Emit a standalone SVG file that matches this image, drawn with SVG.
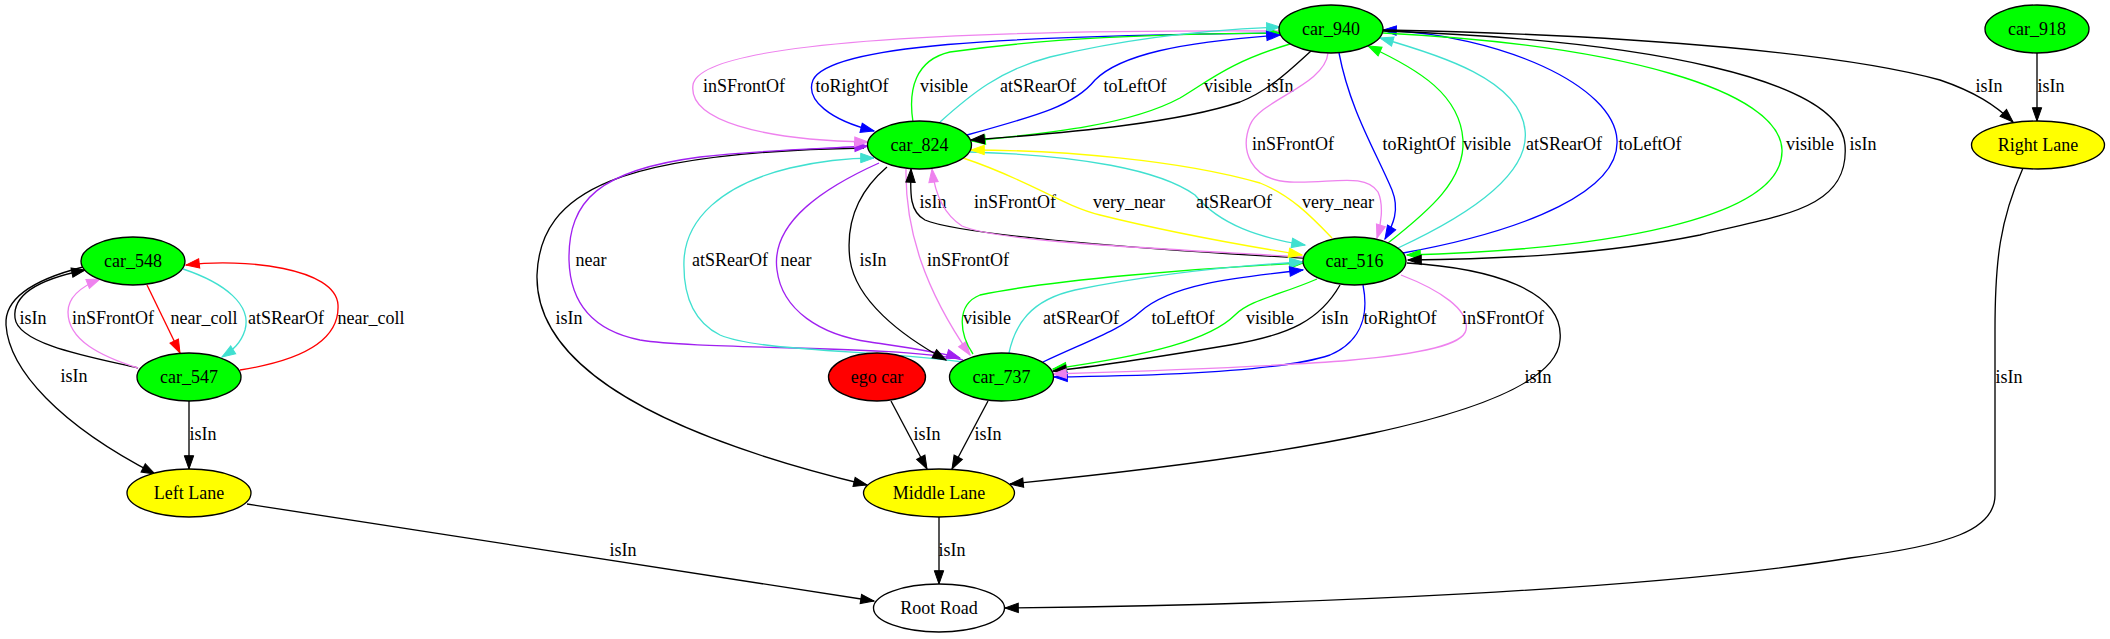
<svg xmlns="http://www.w3.org/2000/svg" width="2110" height="639" viewBox="0 0 2110 639">
<style>
.n ellipse{stroke:#000;stroke-width:1.33}
.t{font-family:"Liberation Serif","Times New Roman",serif;font-size:18px;text-anchor:middle;fill:#000}
.e path{fill:none;stroke-width:1.33}
.k{stroke:#000}.bl{stroke:#0000ff}.gr{stroke:#00ff00}.vi{stroke:#ee82ee}.tq{stroke:#40e0d0}.rd{stroke:#ff0000}.ye{stroke:#ffff00}.pu{stroke:#a020f0}
.k{marker-end:url(#mk)}.bl{marker-end:url(#mbl)}.gr{marker-end:url(#mgr)}.vi{marker-end:url(#mvi)}.tq{marker-end:url(#mtq)}.rd{marker-end:url(#mrd)}.ye{marker-end:url(#mye)}.pu{marker-end:url(#mpu)}
</style>
<defs>
<marker id="mk" markerUnits="userSpaceOnUse" markerWidth="16" markerHeight="12" refX="13.3" refY="4.7" orient="auto" overflow="visible"><path d="M0,0 L13.3,4.7 L0,9.4 Z" fill="#000" stroke="#000" stroke-width="1"/></marker>
<marker id="mbl" markerUnits="userSpaceOnUse" markerWidth="16" markerHeight="12" refX="13.3" refY="4.7" orient="auto" overflow="visible"><path d="M0,0 L13.3,4.7 L0,9.4 Z" fill="#0000ff" stroke="#0000ff" stroke-width="1"/></marker>
<marker id="mgr" markerUnits="userSpaceOnUse" markerWidth="16" markerHeight="12" refX="13.3" refY="4.7" orient="auto" overflow="visible"><path d="M0,0 L13.3,4.7 L0,9.4 Z" fill="#00ff00" stroke="#00ff00" stroke-width="1"/></marker>
<marker id="mvi" markerUnits="userSpaceOnUse" markerWidth="16" markerHeight="12" refX="13.3" refY="4.7" orient="auto" overflow="visible"><path d="M0,0 L13.3,4.7 L0,9.4 Z" fill="#ee82ee" stroke="#ee82ee" stroke-width="1"/></marker>
<marker id="mtq" markerUnits="userSpaceOnUse" markerWidth="16" markerHeight="12" refX="13.3" refY="4.7" orient="auto" overflow="visible"><path d="M0,0 L13.3,4.7 L0,9.4 Z" fill="#40e0d0" stroke="#40e0d0" stroke-width="1"/></marker>
<marker id="mrd" markerUnits="userSpaceOnUse" markerWidth="16" markerHeight="12" refX="13.3" refY="4.7" orient="auto" overflow="visible"><path d="M0,0 L13.3,4.7 L0,9.4 Z" fill="#ff0000" stroke="#ff0000" stroke-width="1"/></marker>
<marker id="mye" markerUnits="userSpaceOnUse" markerWidth="16" markerHeight="12" refX="13.3" refY="4.7" orient="auto" overflow="visible"><path d="M0,0 L13.3,4.7 L0,9.4 Z" fill="#ffff00" stroke="#ffff00" stroke-width="1"/></marker>
<marker id="mpu" markerUnits="userSpaceOnUse" markerWidth="16" markerHeight="12" refX="13.3" refY="4.7" orient="auto" overflow="visible"><path d="M0,0 L13.3,4.7 L0,9.4 Z" fill="#a020f0" stroke="#a020f0" stroke-width="1"/></marker>
</defs>
<rect x="0" y="0" width="2110" height="639" fill="#fff"/>
<g id="connectors" class="e">
<!-- left cluster -->
<path class="k" d="M138,368 C95,358 18,345 15,318 C12,292 45,278 85,270"/>
<text class="t" x="33" y="324">isIn</text>
<path class="k" d="M83,267 C40,278 4,295 6,325 C9,370 60,425 155,474"/>
<text class="t" x="74" y="382">isIn</text>
<path class="vi" d="M138,368 C100,356 68,340 68,312 C68,298 80,287 100,279"/>
<text class="t" x="113" y="324">inSFrontOf</text>
<path class="rd" d="M147,285 L180,353"/>
<text class="t" x="204" y="324">near_coll</text>
<path class="tq" d="M183,269 C225,283 252,305 245,330 C241,343 233,350 222,357"/>
<text class="t" x="286" y="324">atSRearOf</text>
<path class="rd" d="M240,370 C292,362 340,345 338,305 C336,268 245,258 186,265"/>
<text class="t" x="371" y="324">near_coll</text>
<path class="k" d="M189,401 L189,469"/>
<text class="t" x="203" y="440">isIn</text>
<path class="k" d="M247,504 L874,601"/>
<text class="t" x="623" y="556">isIn</text>
<!-- lanes -->
<path class="k" d="M891,401 L927,469"/>
<text class="t" x="927" y="440">isIn</text>
<path class="k" d="M988,401 L952,469"/>
<text class="t" x="988" y="440">isIn</text>
<path class="k" d="M939,517 L939,584"/>
<text class="t" x="952" y="556">isIn</text>
<path class="k" d="M1407,263 C1490,268 1565,290 1560,340 C1555,420 1250,460 1010,484"/>
<text class="t" x="1538" y="383">isIn</text>
<path class="k" d="M864,148 C620,152 540,190 537,275 C535,360 640,430 867,485"/>
<text class="t" x="569" y="324">isIn</text>
<!-- car_824 / car_737 -->
<path class="pu" d="M963,360 C900,345 700,350 640,340 C590,330 570,300 569,260 C568,200 600,170 700,157 C760,150 820,149 868,146"/>
<text class="t" x="591" y="266">near</text>
<path class="pu" d="M879,163 C830,185 770,220 777,270 C782,310 820,335 870,342 C910,348 940,352 960,358"/>
<text class="t" x="796" y="266">near</text>
<path class="tq" d="M963,362 C880,350 760,352 720,335 C690,320 683,290 684,260 C686,220 720,185 790,168 C820,161 845,158 874,158"/>
<text class="t" x="730" y="266">atSRearOf</text>
<path class="k" d="M887,167 C860,190 845,220 850,260 C856,300 900,335 946,360"/>
<text class="t" x="873" y="266">isIn</text>
<path class="vi" d="M906,169 C905,230 925,290 970,355"/>
<text class="t" x="968" y="266">inSFrontOf</text>
<!-- car_824 / car_516 -->
<path class="k" d="M1303,258 C1150,250 960,235 925,220 C910,212 910,195 911,169"/>
<text class="t" x="933" y="208">isIn</text>
<path class="vi" d="M1303,257 C1150,248 1000,242 962,226 C945,215 935,195 932,169"/>
<text class="t" x="1015" y="208">inSFrontOf</text>
<path class="ye" d="M963,158 C1030,180 1060,205 1100,215 C1160,230 1240,245 1302,255"/>
<text class="t" x="1129" y="208">very_near</text>
<path class="tq" d="M970,152 C1080,155 1160,170 1195,195 C1220,225 1260,238 1305,245"/>
<text class="t" x="1234" y="208">atSRearOf</text>
<path class="ye" d="M1332,238 C1310,215 1290,195 1260,183 C1180,160 1060,150 971,150"/>
<text class="t" x="1338" y="208">very_near</text>
<!-- car_940 / car_824 -->
<path class="vi" d="M1280,31 C1050,30 700,35 693,85 C688,120 760,140 868,142"/>
<text class="t" x="744" y="92">inSFrontOf</text>
<path class="bl" d="M1279,33 C1000,36 830,45 813,80 C805,100 830,120 874,131"/>
<text class="t" x="852" y="92">toRightOf</text>
<path class="gr" d="M913,122 C908,90 915,60 950,52 C1050,38 1150,34 1280,33"/>
<text class="t" x="944" y="92">visible</text>
<path class="tq" d="M940,122 C970,95 1000,70 1050,57 C1120,40 1200,30 1280,27"/>
<text class="t" x="1038" y="92">atSRearOf</text>
<path class="bl" d="M967,135 C1040,115 1075,105 1095,80 C1120,55 1180,42 1280,35"/>
<text class="t" x="1135" y="92">toLeftOf</text>
<path class="gr" d="M1290,44 C1230,62 1210,80 1180,98 C1130,125 1050,133 972,141"/>
<text class="t" x="1228" y="92">visible</text>
<path class="k" d="M1311,51 C1290,70 1270,90 1240,102 C1180,122 1080,132 971,140"/>
<text class="t" x="1280" y="92">isIn</text>
<!-- car_940 / car_516 -->
<path class="vi" d="M1328,53 C1325,85 1260,100 1250,125 C1240,150 1250,180 1290,182 C1330,184 1365,172 1378,192 C1384,205 1381,225 1377,238"/>
<text class="t" x="1293" y="150">inSFrontOf</text>
<path class="bl" d="M1339,53 C1350,110 1375,150 1392,190 C1400,210 1393,225 1385,239"/>
<text class="t" x="1419" y="150">toRightOf</text>
<path class="gr" d="M1388,243 C1430,210 1465,180 1463,140 C1460,95 1420,70 1368,46"/>
<text class="t" x="1487" y="150">visible</text>
<path class="tq" d="M1398,248 C1480,210 1530,170 1525,130 C1520,80 1440,55 1380,38"/>
<text class="t" x="1564" y="150">atSRearOf</text>
<path class="bl" d="M1403,253 C1530,230 1620,190 1617,140 C1614,85 1500,35 1383,30"/>
<text class="t" x="1650" y="150">toLeftOf</text>
<path class="gr" d="M1383,33 C1620,45 1780,90 1782,150 C1784,220 1600,250 1407,255"/>
<text class="t" x="1810" y="150">visible</text>
<path class="k" d="M1383,31 C1650,40 1840,80 1845,145 C1850,210 1780,215 1700,235 C1600,255 1500,259 1408,260"/>
<text class="t" x="1863" y="150">isIn</text>
<!-- right lane -->
<path class="k" d="M1383,30 C1650,35 1850,55 1940,80 C1975,92 1995,105 2013,122"/>
<text class="t" x="1989" y="92">isIn</text>
<path class="k" d="M2037,53 L2037,121"/>
<text class="t" x="2051" y="92">isIn</text>
<path class="k" d="M2023,168 C2000,220 1995,260 1995,330 L1995,495 C1995,530 1950,545 1850,558 C1650,590 1300,605 1005,608"/>
<text class="t" x="2009" y="383">isIn</text>
<!-- car_737 / car_516 -->
<path class="gr" d="M973,354 C960,335 955,305 980,295 C1050,280 1200,268 1303,263"/>
<text class="t" x="987" y="324">visible</text>
<path class="tq" d="M1009,353 C1015,325 1030,300 1075,290 C1150,275 1230,266 1303,262"/>
<text class="t" x="1081" y="324">atSRearOf</text>
<path class="bl" d="M1043,362 C1090,340 1120,330 1140,312 C1170,285 1230,278 1303,270"/>
<text class="t" x="1183" y="324">toLeftOf</text>
<path class="gr" d="M1317,279 C1280,295 1250,300 1235,315 C1210,340 1150,355 1053,369"/>
<text class="t" x="1270" y="324">visible</text>
<path class="k" d="M1340,285 C1320,320 1290,335 1230,345 C1170,355 1110,365 1053,371"/>
<text class="t" x="1335" y="324">isIn</text>
<path class="bl" d="M1363,285 C1368,310 1365,340 1330,355 C1280,372 1150,376 1054,377"/>
<text class="t" x="1400" y="324">toRightOf</text>
<path class="vi" d="M1401,275 C1440,290 1470,310 1466,330 C1460,360 1300,366 1053,374"/>
<text class="t" x="1503" y="324">inSFrontOf</text>
</g>
<g id="car_940" class="n"><ellipse cx="1331" cy="29" rx="52" ry="24" fill="#00ff00"/><text class="t" x="1331" y="35">car_940</text></g>
<g id="car_918" class="n"><ellipse cx="2037" cy="29" rx="52" ry="24" fill="#00ff00"/><text class="t" x="2037" y="35">car_918</text></g>
<g id="car_824" class="n"><ellipse cx="919.5" cy="145" rx="52" ry="24" fill="#00ff00"/><text class="t" x="919.5" y="151">car_824</text></g>
<g id="right_lane" class="n"><ellipse cx="2038" cy="145" rx="66.5" ry="24" fill="#ffff00"/><text class="t" x="2038" y="151">Right Lane</text></g>
<g id="car_548" class="n"><ellipse cx="133" cy="261" rx="52" ry="24" fill="#00ff00"/><text class="t" x="133" y="267">car_548</text></g>
<g id="car_516" class="n"><ellipse cx="1354.5" cy="261" rx="51.5" ry="24" fill="#00ff00"/><text class="t" x="1354.5" y="267">car_516</text></g>
<g id="car_547" class="n"><ellipse cx="189" cy="377" rx="52" ry="24" fill="#00ff00"/><text class="t" x="189" y="383">car_547</text></g>
<g id="ego_car" class="n"><ellipse cx="877" cy="377" rx="48.5" ry="24" fill="#ff0000"/><text class="t" x="877" y="383">ego car</text></g>
<g id="car_737" class="n"><ellipse cx="1001.5" cy="377" rx="52" ry="24" fill="#00ff00"/><text class="t" x="1001.5" y="383">car_737</text></g>
<g id="left_lane" class="n"><ellipse cx="189" cy="493" rx="62" ry="24" fill="#ffff00"/><text class="t" x="189" y="499">Left Lane</text></g>
<g id="middle_lane" class="n"><ellipse cx="939" cy="493" rx="75.5" ry="24" fill="#ffff00"/><text class="t" x="939" y="499">Middle Lane</text></g>
<g id="root_road" class="n"><ellipse cx="939" cy="608" rx="65.5" ry="24" fill="#ffffff"/><text class="t" x="939" y="614">Root Road</text></g>
</svg>
